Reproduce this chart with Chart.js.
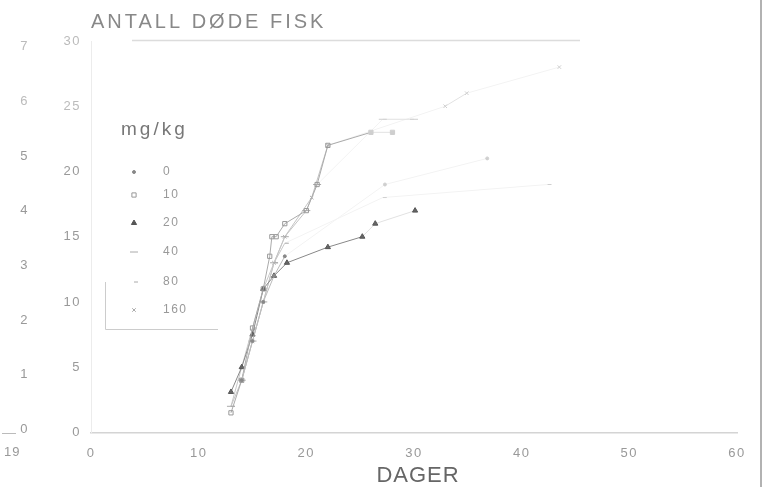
<!DOCTYPE html>
<html>
<head>
<meta charset="utf-8">
<script src="https://cdn.jsdelivr.net/npm/chart.js@4"></script>
<style>
  body { margin: 0; background: #fff; }
  #wrap { width: 768px; height: 487px; }
</style>
</head>
<body>
<div id="wrap"><canvas id="fishChart" width="768" height="487"></canvas></div>
<script>
// doses (mg/kg) and the days / cumulative dead fish
const doses = ['0', '10', '20', '40', '80', '160'];

const days0 = [14, 15, 16, 17, 18, 27.3, 36.8];
const dead0 = [4, 7, 10, 12, 13.5, 19, 21];

const days10 = [13, 14, 15, 16, 16.6, 16.8, 17.2, 18, 20, 21, 22, 26, 28];
const dead10 = [1.5, 4, 8, 11, 13.5, 15, 15, 16, 17, 19, 22, 23, 23];

const days20 = [13, 14, 15, 16, 17, 18.2, 22, 25.2, 26.4, 30.1];
const dead20 = [3.1, 5, 7.5, 11, 12, 13, 14.2, 15, 16, 17];

const days40 = [13, 14, 15, 16, 17, 18, 20, 21, 27.1, 30];
const dead40 = [2, 4, 7, 10, 13, 15, 17, 19, 24, 24];

const days80 = [13, 14, 15, 16, 17, 18, 27.1, 42.4];
const dead80 = [2, 5, 8, 11, 13, 14.5, 18, 19];

const days160 = [14, 15, 16, 17, 18, 20.5, 22, 32.9, 34.9, 43.5];
const dead160 = [4, 7, 10, 13, 15, 18, 22, 25, 26, 28];

const xTicks = [0, 10, 20, 30, 40, 50, 60];
const yTicks = [0, 5, 10, 15, 20, 25, 30];
const y2Ticks = [0, 1, 2, 3, 4, 5, 6, 7];

const FONT = '"Liberation Sans", Arial, sans-serif';

const toPoints = (xs, ys) => xs.map((x, i) => ({ x: x, y: ys[i] }));

const styles = [
    { pointStyle: 'circle', radius: 1.5, color: '#888', line: '#bbb', fill: '#888' },
    { pointStyle: 'rect', radius: 3, color: '#999', line: '#aaa', fill: 'rgba(0,0,0,0)' },
    { pointStyle: 'triangle', radius: 3, color: '#555', line: '#888', fill: '#555' },
    { pointStyle: 'line', radius: 4, color: '#aaa', line: '#c4c4c4', fill: '#aaa' },
    { pointStyle: 'dash', radius: 4, color: '#aaa', line: '#c8c8c8', fill: '#aaa' },
    { pointStyle: 'crossRot', radius: 2.5, color: '#aaa', line: '#c4c4c4', fill: '#aaa' }
];

const allDays = [days0, days10, days20, days40, days80, days160];
const allDead = [dead0, dead10, dead20, dead40, dead80, dead160];

// the marks far out on the right are barely visible on the scan
const faded = (c, base) => (c.parsed && c.parsed.x > 23 && base !== '#555' ? '#cfcfcf' : base);

const datasets = doses.map((d, i) => ({
    label: d,
    data: toPoints(allDays[i], allDead[i]),
    showLine: true,
    borderColor: styles[i].line,
    borderWidth: 1,
    pointStyle: styles[i].pointStyle,
    pointRadius: styles[i].radius,
    pointBorderColor: c => faded(c, styles[i].color),
    pointBackgroundColor: c => (styles[i].fill === '#555' ? '#666' : faded(c, styles[i].fill)),
    pointBorderWidth: 1,
    segment: {
        borderColor: c => {
            if (c.p1.parsed.x - c.p0.parsed.x > 4.5) return '#f3f3f3';
            if (c.p0.parsed.x >= 23) return '#e2e2e2';
            return undefined;
        }
    }
}));

const decorations = {
    id: 'decorations',
    beforeDraw(chart) {
        // plotter lettering is spaced out a bit
        chart.ctx.letterSpacing = '1.5px';
    },
    afterDraw(chart) {
        const ctx = chart.ctx;
        ctx.save();
        ctx.textBaseline = 'middle';
        ctx.textAlign = 'left';
        // title
        ctx.fillStyle = '#888';
        ctx.font = '20px ' + FONT;
        ctx.letterSpacing = '3px';
        ctx.fillText('ANTALL DØDE FISK', 91, 22);
        // line under title
        ctx.strokeStyle = '#dcdcdc';
        ctx.lineWidth = 1.5;
        ctx.beginPath();
        ctx.moveTo(132, 40.5);
        ctx.lineTo(580, 40.5);
        ctx.stroke();
        // x axis title
        ctx.fillStyle = '#666';
        ctx.font = '22px ' + FONT;
        ctx.letterSpacing = '1px';
        ctx.textAlign = 'center';
        ctx.fillText('DAGER', 418, 476);
        // legend
        ctx.textAlign = 'left';
        ctx.fillStyle = '#777';
        ctx.font = '19px ' + FONT;
        ctx.letterSpacing = '3px';
        ctx.fillText('mg/kg', 121, 130);
        const rows = [172, 195, 223, 252, 282, 310];
        ctx.font = '12px ' + FONT;
        ctx.letterSpacing = '1.5px';
        chart.data.datasets.forEach((ds, i) => {
            const y = rows[i];
            ctx.strokeStyle = styles[i].color;
            ctx.fillStyle = styles[i].fill;
            ctx.lineWidth = 1;
            Chart.helpers.drawPoint(ctx, {
                pointStyle: ds.pointStyle,
                radius: styles[i].radius,
                borderWidth: 1,
                rotation: 0
            }, 134, y);
            ctx.fillStyle = '#999';
            ctx.fillText(ds.label, 163, y);
        });
        // legend frame
        ctx.strokeStyle = '#ccc';
        ctx.beginPath();
        ctx.moveTo(105.5, 282);
        ctx.lineTo(105.5, 329.5);
        ctx.lineTo(218, 329.5);
        ctx.stroke();
        // scan edge on the right
        ctx.strokeStyle = '#999';
        ctx.lineWidth = 1.5;
        ctx.beginPath();
        ctx.moveTo(761, 0);
        ctx.lineTo(761, 487);
        ctx.stroke();
        // leftover bits from the neighbouring figure
        ctx.fillStyle = '#999';
        ctx.font = '13px ' + FONT;
        ctx.letterSpacing = '1px';
        ctx.fillText('19', 4, 452);
        ctx.strokeStyle = '#bbb';
        ctx.lineWidth = 1;
        ctx.beginPath();
        ctx.moveTo(2, 433.5);
        ctx.lineTo(16, 433.5);
        ctx.stroke();
        ctx.restore();
    }
};

new Chart(document.getElementById('fishChart').getContext('2d'), {
    type: 'scatter',
    data: { datasets: datasets },
    options: {
        responsive: false,
        animation: false,
        devicePixelRatio: 1,
        layout: { padding: { left: 0, right: 31, top: 41, bottom: 13 } },
        plugins: {
            legend: { display: false },
            tooltip: { enabled: false }
        },
        scales: {
            x: {
                type: 'linear',
                min: 0,
                max: 60,
                afterBuildTicks: scale => { scale.ticks = xTicks.map(v => ({ value: v })); },
                grid: { display: false, drawTicks: false },
                border: { color: '#d4d4d4', width: 1.5 },
                ticks: {
                    color: '#999',
                    padding: 13,
                    font: { family: FONT, size: 13 }
                }
            },
            y: {
                type: 'linear',
                position: 'left',
                weight: 0,
                min: 0,
                max: 30,
                afterBuildTicks: scale => { scale.ticks = yTicks.map(v => ({ value: v })); },
                afterFit: scale => { scale.width = 55; },
                grid: { display: false, drawTicks: false },
                border: { color: '#ececec' },
                ticks: {
                    color: c => (c.tick && c.tick.value >= 25 ? '#bbb' : '#999'),
                    padding: 10,
                    font: { family: FONT, size: 13 }
                }
            },
            y2: {
                type: 'linear',
                position: 'left',
                weight: 1,
                min: -0.05,
                max: 7.1,
                afterBuildTicks: scale => { scale.ticks = y2Ticks.map(v => ({ value: v })); },
                afterFit: scale => { scale.width = 36; },
                grid: { display: false, drawTicks: false },
                border: { display: false },
                ticks: {
                    color: c => (c.tick && c.tick.value >= 6 ? '#bbb' : '#999'),
                    padding: 7,
                    font: { family: FONT, size: 13 }
                }
            }
        }
    },
    plugins: [decorations]
});
</script>
</body>
</html>
